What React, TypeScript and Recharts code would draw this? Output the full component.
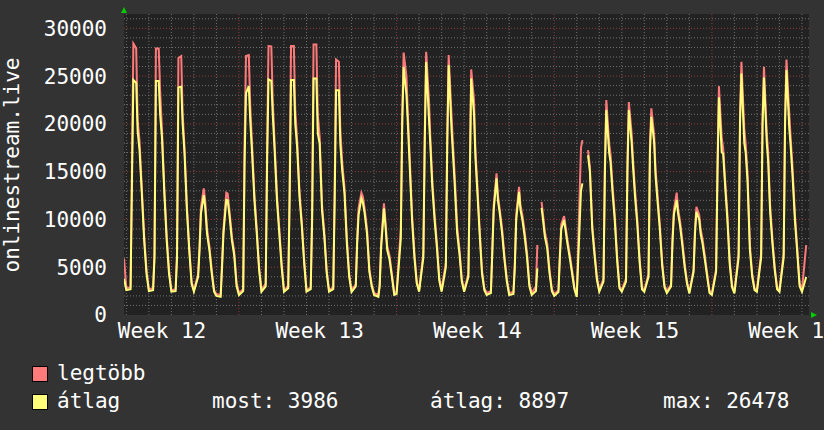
import React from 'react';
import { LineChart, Line, XAxis, YAxis, CartesianGrid, ReferenceLine, ReferenceDot } from 'recharts';

const DAY_HOURS = [0, 4.5, 6, 7.5, 10.5, 12, 14, 16.5, 19, 21.5];

// first sample, just left of the first midnight
const LEAD_HOUR = -2.5;
const LEAD_AVG = 3800;
const LEAD_MAX = 5900;

// átlag (yellow), one row per day
const AVG_BY_DAY: (number | null)[][] = [
    [2600, 2700, 14000, 24600, 24300, 19300, 17300, 12700, 7800, 4300],
    [2500, 2600, 6000, 24500, 24500, 21000, 18500, 12700, 7800, 4300],
    [2440, 2500, 6000, 23800, 23900, 20000, 16900, 11000, 6800, 3300],
    [2440, 4000, 6800, 10600, 12550, 11300, 8500, 6800, 4360, 2440],
    [2000, 1900, 5000, 8500, 12030, 12000, 10300, 7800, 6200, 3000],
    [2090, 2500, 16000, 23200, 23950, 20400, 16900, 12000, 8500, 4700],
    [2440, 3000, 16000, 24650, 24500, 21000, 17260, 12000, 8500, 5000],
    [2440, 2800, 12000, 24580, 24580, 20000, 17600, 12400, 9300, 5400],
    [2440, 2700, 10000, 24750, 24750, 19000, 17950, 11000, 8200, 4400],
    [2440, 2700, 12000, 23530, 23530, 17950, 15170, 12700, 7500, 4000],
    [2400, 3000, 7500, 10500, 12200, 11800, 10600, 8500, 4500, 3000],
    [2100, 1900, 3000, 7000, 11150, 9500, 6800, 5800, 4000, 2100],
    [2200, 8000, 20000, 25980, 23000, 20000, 15500, 9900, 6000, 3300],
    [2440, 6000, 18000, 26478, 20500, 17700, 13500, 9930, 7000, 3600],
    [2440, 5000, 18000, 26150, 19500, 17000, 13500, 8600, 6400, 3500],
    [2440, 4000, 14000, 24750, 21000, 16500, 13000, 8500, 4360, 2600],
    [2100, 2300, 6500, 11000, 14300, 12000, 10600, 8500, 5750, 3500],
    [2100, 2200, 5000, 10000, 12900, 11000, 10000, 8200, 6000, 3000],
    [2100, 2500, 4880, null, 11200, 10000, 8200, 7000, 4360, 2500],
    [2000, 2400, 6000, 9000, 9930, 8900, 7500, 6000, 4360, 2700],
    [1900, 13000, 13770, null, null, 16740, 15000, 9000, 6200, 3660],
    [2440, 3500, 15000, 21440, 17000, 16000, 13000, 9900, 5750, 2800],
    [2440, 3500, 15000, 21440, 18000, 15500, 12500, 9500, 5500, 2700],
    [2440, 4000, 17000, 20740, 18000, 14500, 12000, 9000, 5200, 2900],
    [2300, 3000, 7500, 10500, 12030, 10600, 9400, 7300, 5000, 3300],
    [2260, 4500, 8500, 10800, 10000, 8500, 7500, 5800, 4000, 2300],
    [2100, 4500, 15000, 22770, 17000, 16900, 13700, 10000, 5300, 2900],
    [2260, 6000, 20000, 25280, 18000, 17000, 14000, 6800, 4000, 2600],
    [2440, 6000, 20000, 24860, 18000, 16000, 10900, 7500, 4700, 2700],
    [2440, 6000, 20000, 25630, 19500, 17600, 14500, 9900, 6500, 3000],
    [2440, 3986],
];

// legtöbb (red), one row per day
const MAX_BY_DAY: (number | null)[][] = [
    [2800, 2900, 15500, 28400, 27900, 20400, 18300, 13200, 8300, 4700],
    [2700, 2800, 6500, 27900, 27900, 23500, 19300, 13200, 8300, 4700],
    [2600, 2700, 6500, 26900, 27100, 21000, 17500, 11500, 7200, 3500],
    [2600, 4300, 7200, 11300, 13250, 12000, 9000, 7200, 4700, 2600],
    [2200, 2100, 5500, 9000, 12800, 12700, 10800, 8200, 6600, 3300],
    [2300, 2700, 18000, 27100, 27200, 22000, 17800, 12600, 9000, 5000],
    [2600, 3300, 17500, 28140, 28100, 22500, 18000, 12600, 9000, 5400],
    [2600, 3000, 13500, 28140, 28140, 21500, 18300, 13000, 9700, 5800],
    [2600, 2900, 11000, 28310, 28310, 21000, 18700, 11600, 8600, 4700],
    [2600, 2900, 13000, 26740, 26500, 19500, 16000, 13300, 8000, 4300],
    [2600, 3200, 8000, 11200, 12800, 12400, 11100, 9000, 4800, 3200],
    [2300, 2100, 3300, 7500, 11680, 10000, 7200, 6200, 4300, 2300],
    [2400, 9000, 21000, 27470, 25000, 21000, 16500, 10500, 6500, 3500],
    [2600, 6500, 19000, 27540, 22500, 18500, 14200, 10500, 7500, 3900],
    [2600, 5500, 19000, 27200, 21000, 18000, 14500, 9300, 6900, 3800],
    [2600, 4300, 15000, 25700, 22500, 17300, 13700, 9000, 4700, 2800],
    [2300, 2500, 7000, 11500, 14820, 12500, 11000, 9000, 6100, 3800],
    [2300, 2400, 5500, 10500, 13420, 11500, 10500, 8700, 6500, 3300],
    [2300, 3000, 7320, null, 11850, 10500, 8700, 7500, 4700, 2700],
    [2200, 2600, 6400, 9500, 10350, 9300, 7900, 6400, 4700, 2900],
    [2100, 17500, 18300, null, null, 17260, 15500, 9500, 6600, 4000],
    [2600, 3800, 16000, 22490, 18000, 16800, 13700, 10500, 6200, 3000],
    [2600, 3800, 16000, 22280, 19000, 16200, 13200, 10000, 5900, 2900],
    [2600, 4300, 18000, 21620, 18800, 15200, 12700, 9500, 5600, 3100],
    [2500, 3200, 8000, 11000, 12800, 11100, 9900, 7800, 5400, 3500],
    [2400, 4800, 9000, 11330, 10500, 9000, 8000, 6200, 4300, 2500],
    [2300, 4800, 16000, 23950, 18500, 17500, 14300, 10600, 5700, 3100],
    [2400, 6500, 21000, 26500, 19500, 18000, 14800, 7300, 4300, 2800],
    [2600, 6500, 21000, 25980, 19000, 17000, 11600, 8000, 5000, 2900],
    [2600, 6500, 21000, 26740, 21000, 18500, 15300, 10500, 7000, 3300],
    [2600, 7320],
];

const WEEK_LABELS = ['Week 12', 'Week 13', 'Week 14', 'Week 15', 'Week 16'];
const WEEK_LABEL_HOURS = [38, 206, 374, 542, 710];
const WEEK_START_HOURS = [120, 288, 456, 624];
const Y_TICKS = [0, 5000, 10000, 15000, 20000, 25000, 30000];

const X_DOMAIN: [number, number] = [-2.5, 727.5];
const Y_MAX = 31500;

const FONT = '"DejaVu Sans Mono", monospace';
const TEXT = '#ffffff';
const RED = '#ff7a7a';
const YELLOW = '#ffff7a';
const GRID = '#707070';
const MGRID = '#8a3c3c';

const data: { h: number; avg: number | null; max: number | null }[] = [
    { h: LEAD_HOUR, avg: LEAD_AVG, max: LEAD_MAX },
];
AVG_BY_DAY.forEach((day, d) => {
    day.forEach((v, j) => {
        data.push({ h: d * 24 + DAY_HOURS[j], avg: v, max: MAX_BY_DAY[d][j] });
    });
});

const dayLines: number[] = [];
for (let h = 0; h <= X_DOMAIN[1]; h += 24) {
    if (!WEEK_START_HOURS.includes(h)) dayLines.push(h);
}
const minorY: number[] = [];
for (let v = 1000; v < Y_MAX; v += 1000) {
    if (v % 5000 !== 0) minorY.push(v);
}

const UpArrow = (props: any) => {
    const { cx, cy } = props;
    return <polygon points={`${cx - 3},${cy - 1} ${cx + 3},${cy - 1} ${cx},${cy - 7}`} fill="#00cc00" />;
};

const RightArrow = (props: any) => {
    const { cx, cy } = props;
    return <polygon points={`${cx + 2},${cy - 3} ${cx + 2},${cy + 3} ${cx + 8},${cy}`} fill="#00cc00" />;
};

const YTitle = () => (
    <text x={19} y={165} transform="rotate(-90, 19, 165)" textAnchor="middle" fill={TEXT} fontSize={21} fontFamily={FONT}>
        onlinestream.live
    </text>
);

export default function App() {
    return (
        <div style={{ position: 'relative', width: 824, height: 430, background: '#333333', overflow: 'hidden', fontFamily: FONT }}>
            <style>{'body{margin:0}'}</style>
            <LineChart width={824} height={430} data={data} margin={{ top: 14, right: 15, bottom: 0, left: 0 }}>
                <CartesianGrid horizontal={false} vertical={false} fill="#222222" fillOpacity={1} />
                {minorY.map((v) => (
                    <ReferenceLine key={`gy${v}`} y={v} stroke={GRID} strokeDasharray="1 2" />
                ))}
                {dayLines.map((h) => (
                    <ReferenceLine key={`gx${h}`} x={h} stroke={GRID} strokeDasharray="1 2" />
                ))}
                {Y_TICKS.slice(1).map((v) => (
                    <ReferenceLine key={`my${v}`} y={v} stroke={MGRID} strokeDasharray="1 2" />
                ))}
                {WEEK_START_HOURS.map((h) => (
                    <ReferenceLine key={`mx${h}`} x={h} stroke={MGRID} strokeDasharray="1 2" />
                ))}
                <XAxis
                    type="number"
                    dataKey="h"
                    domain={X_DOMAIN}
                    ticks={WEEK_LABEL_HOURS}
                    interval={0}
                    tickFormatter={(v, i) => WEEK_LABELS[i]}
                    height={115}
                    axisLine={false}
                    tickLine={false}
                    tickSize={0}
                    tickMargin={8}
                    tick={{ fill: TEXT, fontSize: 21, fontFamily: FONT }}
                    allowDataOverflow
                />
                <YAxis
                    type="number"
                    domain={[0, Y_MAX]}
                    ticks={Y_TICKS}
                    interval={0}
                    width={124}
                    axisLine={false}
                    tickLine={false}
                    tickSize={0}
                    tickMargin={17}
                    tick={{ fill: TEXT, fontSize: 21, fontFamily: FONT }}
                    label={<YTitle />}
                    allowDataOverflow
                />
                <Line type="linear" dataKey="max" stroke={RED} strokeWidth={2} dot={false} isAnimationActive={false} />
                <Line type="linear" dataKey="avg" stroke={YELLOW} strokeWidth={2} dot={false} isAnimationActive={false} />
                <ReferenceDot x={X_DOMAIN[0]} y={Y_MAX} shape={<UpArrow />} />
                <ReferenceDot x={X_DOMAIN[1]} y={0} shape={<RightArrow />} />
            </LineChart>
            <div style={{ position: 'absolute', left: 32, top: 366, width: 14, height: 14, background: RED, border: '1px solid #000' }} />
            <div style={{ position: 'absolute', left: 32, top: 394, width: 14, height: 14, background: YELLOW, border: '1px solid #000' }} />
            <div style={{ position: 'absolute', left: 57, top: 360, color: TEXT, fontSize: 21, lineHeight: '26px', whiteSpace: 'pre' }}>legtöbb</div>
            <div style={{ position: 'absolute', left: 57, top: 388, color: TEXT, fontSize: 21, lineHeight: '26px', whiteSpace: 'pre' }}>átlag</div>
            <div style={{ position: 'absolute', left: 212, top: 388, color: TEXT, fontSize: 21, lineHeight: '26px', whiteSpace: 'pre' }}>most: 3986</div>
            <div style={{ position: 'absolute', left: 430, top: 388, color: TEXT, fontSize: 21, lineHeight: '26px', whiteSpace: 'pre' }}>átlag: 8897</div>
            <div style={{ position: 'absolute', left: 663, top: 388, color: TEXT, fontSize: 21, lineHeight: '26px', whiteSpace: 'pre' }}>max: 26478</div>
        </div>
    );
}
